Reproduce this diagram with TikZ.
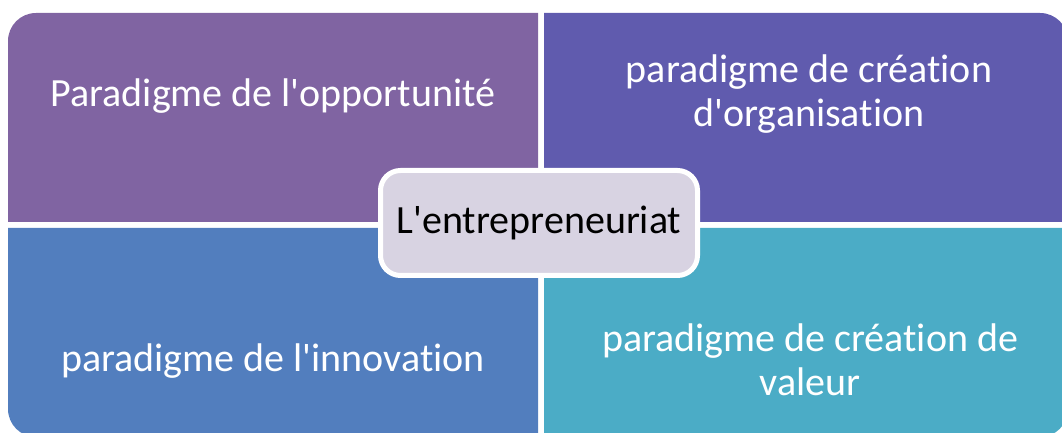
\documentclass[tikz,border=0pt]{standalone}
\usepackage{fontspec}
\setmainfont{Carlito}[Ligatures=NoCommon]
\definecolor{opportunite}{HTML}{8064A2}
\definecolor{organisation}{HTML}{605BAE}
\definecolor{innovation}{HTML}{527EBE}
\definecolor{valeur}{HTML}{4BACC6}
\definecolor{centre}{HTML}{D8D3E2}
\newcommand{\apos}{\textquotesingle}
\tikzset{
  quadtext/.style={text=white, align=center, font=\fontsize{40}{44}\selectfont},
  centrebox/.style={draw=white, line width=5pt, fill=centre, rounded corners=20pt,
    minimum width=317pt, minimum height=105pt, inner sep=0pt, font=\fontsize{40}{44}\selectfont}
}

\begin{document}
\begin{tikzpicture}[x=1pt, y=1pt]
\useasboundingbox (0,0) rectangle (1062,433);
%%% four paradigms %%%

      %% top left
      \fill[opportunite] (538,211) -- (8,211) -- (8,392) arc (180:90:28) -- (538,420) -- cycle;
      %% top right
      \fill[organisation] (544,211) -- (544,420) -- (1040,420) arc (90:0:28) -- (1068,211) -- cycle;
      %% bottom left
      \fill[innovation] (538,205) -- (8,205) -- (8,24) arc (180:270:28) -- (538,-4) -- cycle;
      %% bottom right
      \fill[valeur] (544,205) -- (544,-4) -- (1040,-4) arc (270:360:28) -- (1068,205) -- cycle;

      \node[quadtext] (opportunite) at (273,337) {Paradigme de l\apos opportunité};
      \node[quadtext] (organisation) at (809,339) {paradigme de création\\d\apos organisation};
      \node[quadtext] (innovation) at (273,72) {paradigme de l\apos innovation};
      \node[quadtext] (valeur) at (810,73) {paradigme de création de\\valeur};

      %% centre
      \node[centrebox] (entrepreneuriat) at (539,210) {L\apos entrepreneuriat};

\end{tikzpicture}
\end{document}
